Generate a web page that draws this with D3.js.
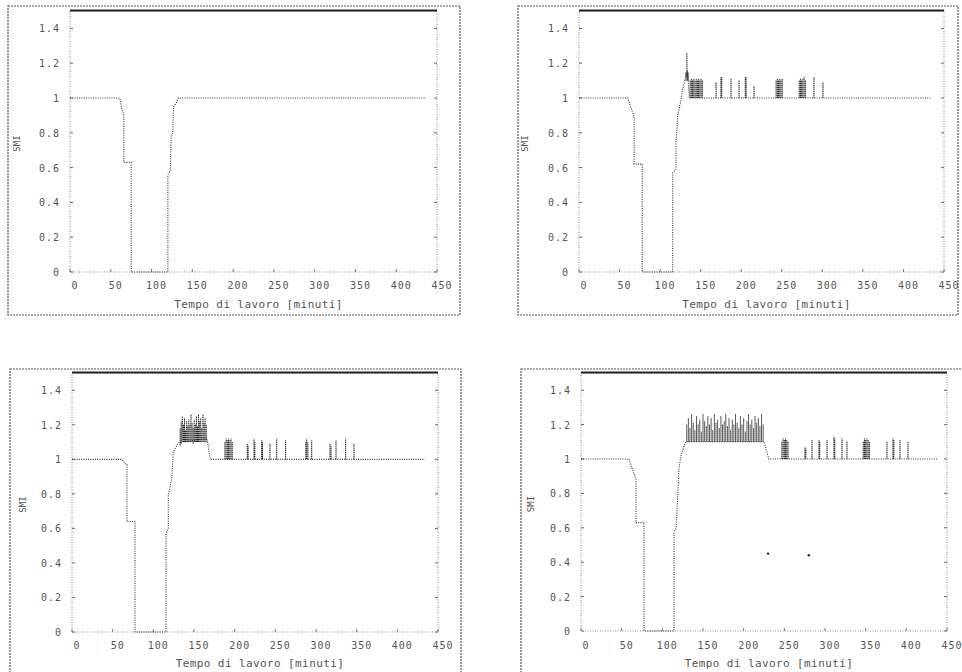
<!DOCTYPE html>
<html>
<head>
<meta charset="utf-8">
<script src="https://cdn.jsdelivr.net/npm/d3@7"></script>
<style>
  body { margin: 0; background: #fff; }
  svg { display: block; }
  text { font-family: "DejaVu Sans Mono", "Liberation Mono", monospace; fill: #555; }
</style>
</head>
<body>
<div id="root"></div>
<script>
// Axis ticks (same for all four panels)
const xTicks = [0, 50, 100, 150, 200, 250, 300, 350, 400, 450];
const yTicks = [0, 0.2, 0.4, 0.6, 0.8, 1, 1.2, 1.4];
const xTitle = "Tempo di lavoro [minuti]";
const yTitle = "SMI";

// Base step curves [minuti, valore]
const base1 = [[0, 1], [61, 1], [64, 0.93], [66, 0.9], [66, 0.63], [75, 0.63], [75, 0],
  [120, 0], [120, 0.56], [123, 0.58], [124, 0.78], [126, 0.8], [127, 0.95], [130, 0.97],
  [133, 1], [435, 1]];
const base2 = [[0, 1], [60, 1], [68, 0.89], [68, 0.62], [78, 0.62], [78, 0],
  [115.5, 0], [115.5, 0.57], [119.6, 0.59], [119.6, 0.74], [121.7, 0.9], [125.8, 0.99],
  [127.8, 1.05], [129.9, 1.09], [131.9, 1.14], [134, 1.14], [136, 1], [434, 1]];
const base3 = [[0, 1], [61.5, 1], [66.4, 0.97], [67.6, 0.97], [67.6, 0.64], [77.5, 0.64], [77.5, 0],
  [115.6, 0], [115.6, 0.57], [118.4, 0.6], [118.4, 0.79], [122.5, 0.89], [124.5, 1.04],
  [128.7, 1.08], [132, 1.1], [166, 1.12], [170, 1], [434, 1]];
const base4 = [[0, 1], [59, 1], [67.6, 0.88], [67.6, 0.63], [77.5, 0.63], [77.5, 0],
  [114.4, 0], [114.4, 0.57], [117, 0.6], [120.5, 0.95], [123, 1.02], [127, 1.08],
  [129, 1.1], [225, 1.1], [231, 1], [439, 1]];

// Spikes [minuti, da, a]
const spikes1 = [];
const spikes2 = [
  [132, 1.1, 1.15], [133, 1.12, 1.26], [133.5, 1.1, 1.16], [134.5, 1.1, 1.15],
  [137, 1, 1.1], [138.5, 1, 1.11], [140, 1, 1.1], [141.5, 1, 1.11], [143, 1, 1.1], [144.5, 1, 1.11],
  [146, 1, 1.1], [147.5, 1, 1.11], [149, 1, 1.1], [150.5, 1, 1.11], [152, 1, 1.1],
  [169, 1, 1.09], [175, 1, 1.12], [176, 1, 1.12], [187.4, 1, 1.11], [197.3, 1, 1.1],
  [205, 1, 1.12], [206, 1, 1.12], [215.8, 1, 1.07],
  [243, 1, 1.1], [244.5, 1, 1.11], [246, 1, 1.1], [247.5, 1, 1.11], [249, 1, 1.1], [250.5, 1, 1.11],
  [271.5, 1, 1.1], [273, 1, 1.11], [274.5, 1, 1.1], [276, 1, 1.11], [277.5, 1, 1.12], [279, 1, 1.1],
  [289.7, 1, 1.12], [300.8, 1, 1.09]
];
const spikes3 = [
  [133, 1.08, 1.18], [134.3, 1.09, 1.22], [135.6, 1.1, 1.25], [137, 1.1, 1.2], [138.3, 1.1, 1.24],
  [139.6, 1.1, 1.17], [141, 1.1, 1.22], [142.3, 1.1, 1.19], [143.6, 1.1, 1.23], [145, 1.1, 1.2],
  [146.3, 1.1, 1.26], [147.6, 1.1, 1.21], [149, 1.09, 1.18], [150.3, 1.1, 1.23], [151.6, 1.1, 1.2],
  [153, 1.1, 1.25], [154.3, 1.1, 1.19], [155.6, 1.1, 1.26], [157, 1.1, 1.22], [158.3, 1.1, 1.24],
  [159.6, 1.1, 1.18], [161, 1.1, 1.26], [162.3, 1.1, 1.21], [163.6, 1.1, 1.24], [165, 1.1, 1.2],
  [188, 1, 1.1], [189.5, 1, 1.12], [191, 1, 1.11], [192.5, 1, 1.12], [194, 1, 1.11], [195.5, 1, 1.12], [197, 1, 1.1],
  [215.5, 1, 1.09], [216.5, 1, 1.08], [223.8, 1, 1.12], [224.8, 1, 1.1], [233.2, 1, 1.11], [234.2, 1, 1.1],
  [243.4, 1, 1.09], [251.7, 1, 1.12], [262.7, 1, 1.11],
  [287.5, 1, 1.1], [288.6, 1, 1.12], [290, 1, 1.1], [294.7, 1, 1.11],
  [317.2, 1, 1.09], [318.5, 1, 1.08], [324.6, 1, 1.11], [336.5, 1, 1.12], [346.7, 1, 1.09]
];
const spikes4 = [
  [130, 1.1, 1.2], [132, 1.1, 1.24], [134, 1.1, 1.18], [136, 1.1, 1.26], [138, 1.1, 1.21],
  [140, 1.1, 1.17], [142, 1.1, 1.25], [144, 1.1, 1.2], [146, 1.1, 1.23], [148, 1.1, 1.16],
  [150, 1.1, 1.26], [152, 1.1, 1.22], [154, 1.1, 1.19], [156, 1.1, 1.25], [158, 1.1, 1.2],
  [160, 1.1, 1.24], [162, 1.1, 1.17], [164, 1.1, 1.26], [166, 1.1, 1.21], [168, 1.1, 1.23],
  [170, 1.1, 1.18], [172, 1.1, 1.25], [174, 1.1, 1.2], [176, 1.1, 1.22], [178, 1.1, 1.26],
  [180, 1.1, 1.19], [182, 1.1, 1.24], [184, 1.1, 1.17], [186, 1.1, 1.23], [188, 1.1, 1.2],
  [190, 1.1, 1.26], [192, 1.1, 1.21], [194, 1.1, 1.18], [196, 1.1, 1.25], [198, 1.1, 1.2],
  [200, 1.1, 1.24], [202, 1.1, 1.16], [204, 1.1, 1.22], [206, 1.1, 1.26], [208, 1.1, 1.2],
  [210, 1.1, 1.23], [212, 1.1, 1.18], [214, 1.1, 1.25], [216, 1.1, 1.21], [218, 1.1, 1.24],
  [220, 1.1, 1.19], [222, 1.1, 1.26], [224, 1.1, 1.2],
  [247, 1, 1.1], [248.5, 1, 1.12], [250, 1, 1.11], [251.5, 1, 1.12], [253, 1, 1.11], [254.5, 1, 1.1],
  [275.4, 1, 1.07], [276.5, 1, 1.06], [284, 1, 1.11], [292.6, 1, 1.11], [293.5, 1, 1.1],
  [302.5, 1, 1.11], [311, 1, 1.13], [312, 1, 1.12], [320.9, 1, 1.12], [327, 1, 1.1],
  [347, 1, 1.1], [348.5, 1, 1.12], [350, 1, 1.11], [351.5, 1, 1.12], [353, 1, 1.11], [354.5, 1, 1.1],
  [376.2, 1, 1.1], [383.6, 1, 1.12], [384.6, 1, 1.11], [392.2, 1, 1.11], [402, 1, 1.1]
];
const dots4 = [[230, 0.45], [280, 0.44]];

// Layout of the four scanned panels
const panels = [
  { base: base1, spikes: spikes1, dots: [], frame: [8, 6, 460, 315], box: [70, 11, 437, 272], tickY: 289, titleY: 308, yTitleX: 20 },
  { base: base2, spikes: spikes2, dots: [], frame: [518, 6, 958, 315], box: [579, 11, 944, 272], tickY: 289, titleY: 308, yTitleX: 528 },
  { base: base3, spikes: spikes3, dots: [], frame: [10, 369, 461, 700], box: [72, 373, 438, 632], tickY: 649, titleY: 667, yTitleX: 26 },
  { base: base4, spikes: spikes4, dots: dots4, frame: [521, 369, 990, 700], box: [581, 373, 947, 631], tickY: 649, titleY: 667, yTitleX: 534 }
];

const W = 962, H = 672;
const svg = d3.select("#root").append("svg").attr("width", W).attr("height", H);

panels.forEach(p => {
  const [bx0, by0, bx1, by1] = p.box;
  const [fx0, fy0, fx1, fy1] = p.frame;
  const x = d3.scaleLinear().domain([0, 450]).range([bx0, bx1]);
  const y = d3.scaleLinear().domain([0, 1.5]).range([by1, by0]);
  const g = svg.append("g");

  // outer frame
  g.append("rect")
    .attr("x", fx0).attr("y", fy0).attr("width", fx1 - fx0).attr("height", fy1 - fy0)
    .attr("fill", "none").attr("stroke", "#555").attr("stroke-width", 1.2)
    .attr("stroke-dasharray", "2,1");

  // plot box: dotted sides, heavy top
  g.append("rect")
    .attr("x", bx0).attr("y", by0).attr("width", bx1 - bx0).attr("height", by1 - by0)
    .attr("fill", "none").attr("stroke", "#888").attr("stroke-width", 1)
    .attr("stroke-dasharray", "1,1.5");
  g.append("line")
    .attr("x1", bx0).attr("x2", bx1).attr("y1", by0 - 0.5).attr("y2", by0 - 0.5)
    .attr("stroke", "#222").attr("stroke-width", 2);

  // ticks
  yTicks.forEach(v => {
    g.append("line").attr("x1", bx0).attr("x2", bx0 + 3).attr("y1", y(v)).attr("y2", y(v)).attr("stroke", "#666");
    g.append("line").attr("x1", bx1).attr("x2", bx1 - 3).attr("y1", y(v)).attr("y2", y(v)).attr("stroke", "#666");
  });
  xTicks.forEach(v => {
    g.append("line").attr("x1", x(v)).attr("x2", x(v)).attr("y1", by1).attr("y2", by1 - 3).attr("stroke", "#777");
  });

  // tick labels
  g.selectAll(".yl").data(yTicks).enter().append("text")
    .attr("x", bx0 - 10).attr("y", d => y(d) + 4)
    .attr("text-anchor", "end").style("font-size", "10px").style("letter-spacing", "1px")
    .text(d => d3.format("~g")(d));
  g.selectAll(".xl").data(xTicks).enter().append("text")
    .attr("x", d => x(d) + 5).attr("y", p.tickY)
    .attr("text-anchor", "middle").style("font-size", "10px").style("letter-spacing", "1px")
    .text(d => d);

  // axis titles
  g.append("text")
    .attr("x", (bx0 + bx1) / 2 + 5).attr("y", p.titleY)
    .attr("text-anchor", "middle").style("font-size", "11px").style("letter-spacing", "0.4px")
    .text(xTitle);
  g.append("text")
    .attr("transform", `translate(${p.yTitleX},${(by0 + by1) / 2 + 2}) rotate(-90)`)
    .attr("text-anchor", "middle").style("font-size", "9px")
    .text(yTitle);

  // base curve, dotted like the scan
  const line = d3.line().x(d => x(d[0])).y(d => y(d[1]));
  g.append("path").datum(p.base)
    .attr("d", line).attr("fill", "none")
    .attr("stroke", "#333").attr("stroke-width", 1.1)
    .attr("stroke-dasharray", "1,1.3");

  // spikes
  g.selectAll(".sp").data(p.spikes).enter().append("line")
    .attr("x1", d => x(d[0])).attr("x2", d => x(d[0]))
    .attr("y1", d => y(d[1])).attr("y2", d => y(d[2]))
    .attr("stroke", "#222").attr("stroke-width", 1)
    .attr("stroke-dasharray", "1.5,0.5");

  // stray points
  g.selectAll(".dt").data(p.dots).enter().append("circle")
    .attr("cx", d => x(d[0])).attr("cy", d => y(d[1])).attr("r", 1.2)
    .attr("fill", "#222");
});
</script>
</body>
</html>
